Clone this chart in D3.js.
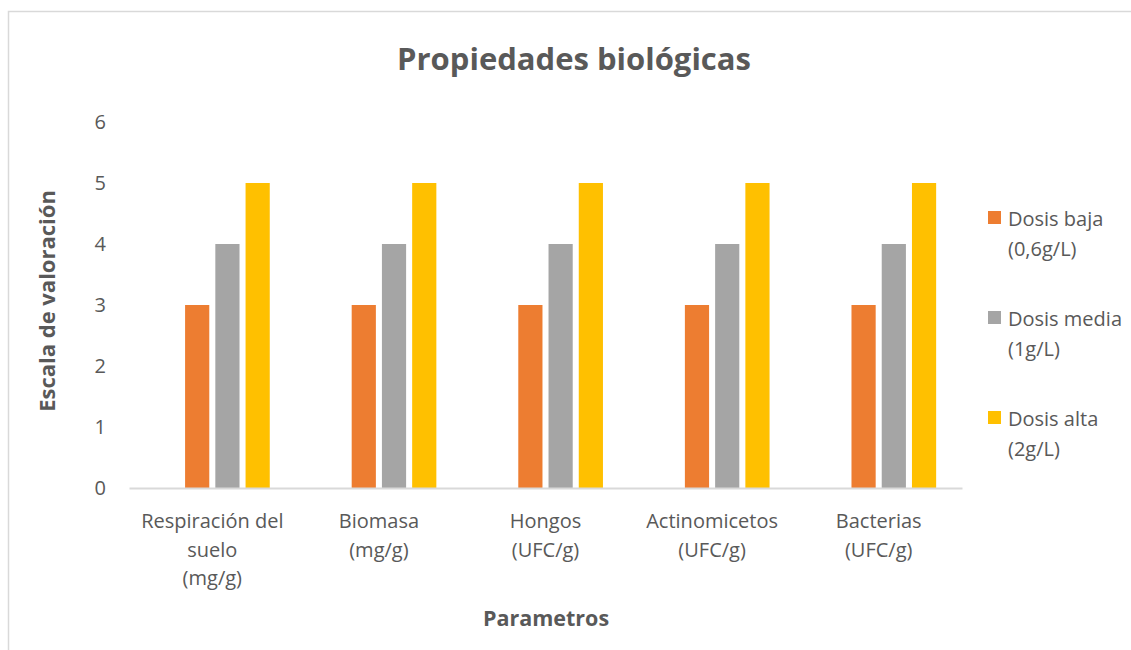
<!DOCTYPE html>
<html><head><meta charset="utf-8">
<script src="https://cdn.jsdelivr.net/npm/d3@7"></script>
<style>body{margin:0;background:#fff}svg{display:block}text{font-family:"Open Sans",Lato,sans-serif}</style>
</head><body>
<svg id="c" width="1131" height="650"></svg>
<script>
const categories = [["Respiración del","suelo","(mg/g)"],["Biomasa","(mg/g)"],["Hongos","(UFC/g)"],["Actinomicetos","(UFC/g)"],["Bacterias","(UFC/g)"]];
const seriesNames = [["Dosis baja","(0,6g/L)"],["Dosis media","(1g/L)"],["Dosis alta","(2g/L)"]];
const dosisBaja = [3,3,3,3,3];
const dosisMedia = [4,4,4,4,4];
const dosisAlta = [5,5,5,5,5];
const colors = ["#ED7D31","#A5A5A5","#FFC000"];
const yTicks = [0,1,2,3,4,5,6];
const title = "Propiedades biológicas";
const yTitle = "Escala de valoración";
const xTitle = "Parametros";

const svg = d3.select("#c");
const txt = "#595959";
const F = '"Open Sans"';
svg.append("rect").attr("x",8.5).attr("y",11.5).attr("width",1140).attr("height",660)
  .attr("fill","#fff").attr("stroke","#d9d9d9").attr("stroke-width",1.5);

const series = [dosisBaja, dosisMedia, dosisAlta];
const keys = categories.map((c,i)=>i);
const x0 = d3.scaleBand().domain(keys).range([129,962]).paddingInner(0.274).paddingOuter(0.137);
const x1 = d3.scaleBand().domain(["empty",0,1,2]).range([0,x0.bandwidth()]).paddingInner(0.2).paddingOuter(0.1);
const y = d3.scaleLinear().domain([0,6]).range([488,122]);

series.forEach((vals,si)=>{
  svg.append("g").selectAll("rect").data(vals).join("rect")
    .attr("x",(d,i)=>x0(i)+x1(si))
    .attr("width",x1.bandwidth())
    .attr("y",d=>y(d))
    .attr("height",d=>y(0)-y(d))
    .attr("fill",colors[si]);
});

const ya = svg.append("g").attr("transform","translate(129,0)")
  .call(d3.axisLeft(y).tickValues(yTicks).tickSize(0).tickPadding(23).tickFormat(d3.format("d")));
ya.select(".domain").remove();
ya.selectAll("text").attr("fill",txt).style("font-size","20px").style("font-family",F);

const xa = svg.append("g").attr("transform","translate(0,488)")
  .call(d3.axisBottom(x0).tickSize(0).tickFormat(""));
xa.select(".domain").attr("stroke","#d9d9d9").attr("stroke-width",2);
xa.selectAll(".tick text").remove();
xa.selectAll(".tick").append("text")
  .attr("fill",txt).attr("text-anchor","middle").style("font-size","20px").style("font-family",F)
  .each(function(d){
    const t = d3.select(this);
    categories[d].forEach((line,li)=>{
      t.append("tspan").attr("x",0).attr("y",40+li*28.5).text(line);
    });
  });

svg.append("text").attr("x",574).attr("y",70).attr("text-anchor","middle")
  .attr("fill",txt).style("font-size","31px").style("font-weight","bold").text(title);
svg.append("text").attr("transform","translate(55,301) rotate(-90)").attr("text-anchor","middle")
  .attr("fill",txt).style("font-size","22px").style("font-weight","bold").text(yTitle);
svg.append("text").attr("x",546).attr("y",626).attr("text-anchor","middle")
  .attr("fill",txt).style("font-size","21.5px").style("font-weight","bold").text(xTitle);

const lg = svg.append("g");
seriesNames.forEach((nm,i)=>{
  const gy = 211 + i*100;
  lg.append("rect").attr("x",988).attr("y",gy).attr("width",13).attr("height",13).attr("fill",colors[i]);
  const t = lg.append("text").attr("fill",txt).style("font-size","20px");
  nm.forEach((line,li)=>t.append("tspan").attr("x",1008).attr("y",gy+15+li*30).text(line));
});
</script>
</body></html>
